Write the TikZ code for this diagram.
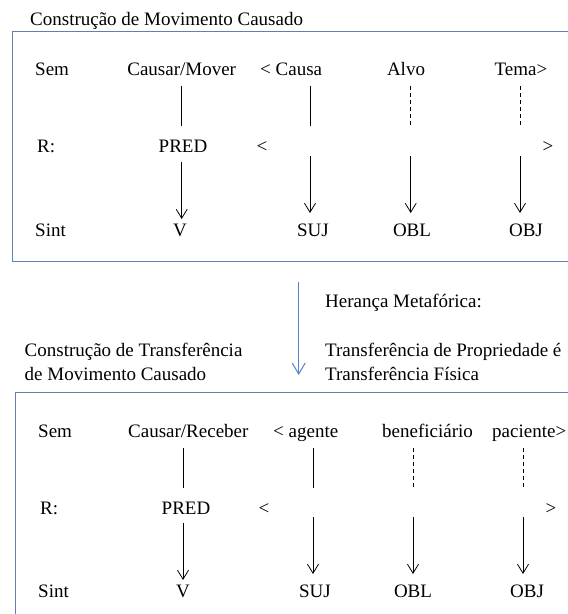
\documentclass[tikz,border=0pt]{standalone}
\usepackage{fontspec}
\setmainfont{Liberation Serif}
\usetikzlibrary{arrows.meta}
\definecolor{framecol}{RGB}{96,128,180}
\definecolor{inhcol}{RGB}{84,130,196}
\begin{document}
\begin{tikzpicture}[x=1pt,y=-1pt,
  font=\fontsize{19}{22}\selectfont,
  lw/.style={inner sep=0pt,anchor=base west},
  lc/.style={inner sep=0pt,anchor=base},
  link/.style={line width=0.8pt},
  weak/.style={link,dash pattern=on 4pt off 3pt},
  maps/.style={link,-{Straight Barb[length=9pt,width=11pt]}},
  frame/.style={draw=framecol,line width=1pt},
  inherit/.style={draw=inhcol,line width=1pt,-{Straight Barb[length=11pt,width=13pt]}}]
\useasboundingbox (0,0) rectangle (568,614);
\clip (0,0) rectangle (568,614);

% ---------- Construção de Movimento Causado ----------
\node[lw] (title1) at (30,25) {Construção de Movimento Causado};
\draw[frame] (12.7,31.7) rectangle (600,261);

\node[lw] (sem1) at (35,75) {Sem};
\node[lc] (pa1) at (181.7,75) {Causar/Mover};
\node[lw] (pb1) at (260,75) {< Causa};
\node[lc] (pc1) at (406,75) {Alvo};
\node[lc] (pd1) at (521,75) {Tema>};

\node[lw] (r1) at (37,152) {R:};
\node[lc] (pred1) at (183,152) {PRED};
\node[lc] (lt1) at (262,152) {<};
\node[lc] (gt1) at (548,152) {>};

\node[lw] (sint1) at (35,236) {Sint};
\node[lc] (v1) at (180,236) {V};
\node[lc] (suj1) at (313,236) {SUJ};
\node[lc] (obl1) at (412,236) {OBL};
\node[lc] (obj1) at (526,236) {OBJ};

\coordinate (a1s) at (181.7,86);  \coordinate (a1e) at (181.7,126);
\coordinate (b1s) at (310,86);    \coordinate (b1e) at (310,126);
\coordinate (c1s) at (410.7,86);  \coordinate (c1e) at (410.7,126);
\coordinate (d1s) at (520,86);    \coordinate (d1e) at (520,126);
\draw[link] (a1s) -- (a1e);
\draw[link] (b1s) -- (b1e);
\draw[weak] (c1s) -- (c1e);
\draw[weak] (d1s) -- (d1e);

\coordinate (a1f) at (181.7,162); \coordinate (a1g) at (181.7,219);
\coordinate (b1f) at (310,156);   \coordinate (b1g) at (310,213);
\coordinate (c1f) at (410.7,156); \coordinate (c1g) at (410.7,213);
\coordinate (d1f) at (520,156);   \coordinate (d1g) at (520,213);
\draw[maps] (a1f) -- (a1g);
\draw[maps] (b1f) -- (b1g);
\draw[maps] (c1f) -- (c1g);
\draw[maps] (d1f) -- (d1g);

% ---------- herança ----------
\coordinate (inhs) at (298.7,282);
\coordinate (inhe) at (298.7,375);
\draw[inherit] (inhs) -- (inhe);
\node[lw] (her) at (325,307) {Herança Metafórica:};
\node[lw] (tp1) at (325,356) {Transferência de Propriedade é};
\node[lw] (tp2) at (325,380) {Transferência Física};
\node[lw] (ct1) at (24.5,356) {Construção de Transferência};
\node[lw] (ct2) at (24.5,380) {de Movimento Causado};

% ---------- Construção de Transferência de Movimento Causado ----------
\draw[frame] (15,392.7) rectangle (600,660);

\node[lw] (sem2) at (38,437) {Sem};
\node[lw] (pa2) at (128,437) {Causar/Receber};
\node[lw] (pb2) at (273,437) {< agente};
\node[lw] (pc2) at (382,437) {beneficiário};
\node[lw] (pd2) at (492,437) {paciente>};

\node[lw] (r2) at (40,514) {R:};
\node[lc] (pred2) at (186,514) {PRED};
\node[lc] (lt2) at (264,514) {<};
\node[lc] (gt2) at (551,514) {>};

\node[lw] (sint2) at (38,597) {Sint};
\node[lc] (v2) at (183,597) {V};
\node[lc] (suj2) at (315,597) {SUJ};
\node[lc] (obl2) at (413,597) {OBL};
\node[lc] (obj2) at (527,597) {OBJ};

\coordinate (a2s) at (183,448);  \coordinate (a2e) at (183,488);
\coordinate (b2s) at (313,448);  \coordinate (b2e) at (313,488);
\coordinate (c2s) at (413,448);  \coordinate (c2e) at (413,488);
\coordinate (d2s) at (523,448);  \coordinate (d2e) at (523,488);
\draw[link] (a2s) -- (a2e);
\draw[link] (b2s) -- (b2e);
\draw[weak] (c2s) -- (c2e);
\draw[weak] (d2s) -- (d2e);

\coordinate (a2f) at (183,523);  \coordinate (a2g) at (183,580);
\coordinate (b2f) at (313,517);  \coordinate (b2g) at (313,574);
\coordinate (c2f) at (413,517);  \coordinate (c2g) at (413,574);
\coordinate (d2f) at (523,517);  \coordinate (d2g) at (523,574);
\draw[maps] (a2f) -- (a2g);
\draw[maps] (b2f) -- (b2g);
\draw[maps] (c2f) -- (c2g);
\draw[maps] (d2f) -- (d2g);
\end{tikzpicture}
\end{document}
